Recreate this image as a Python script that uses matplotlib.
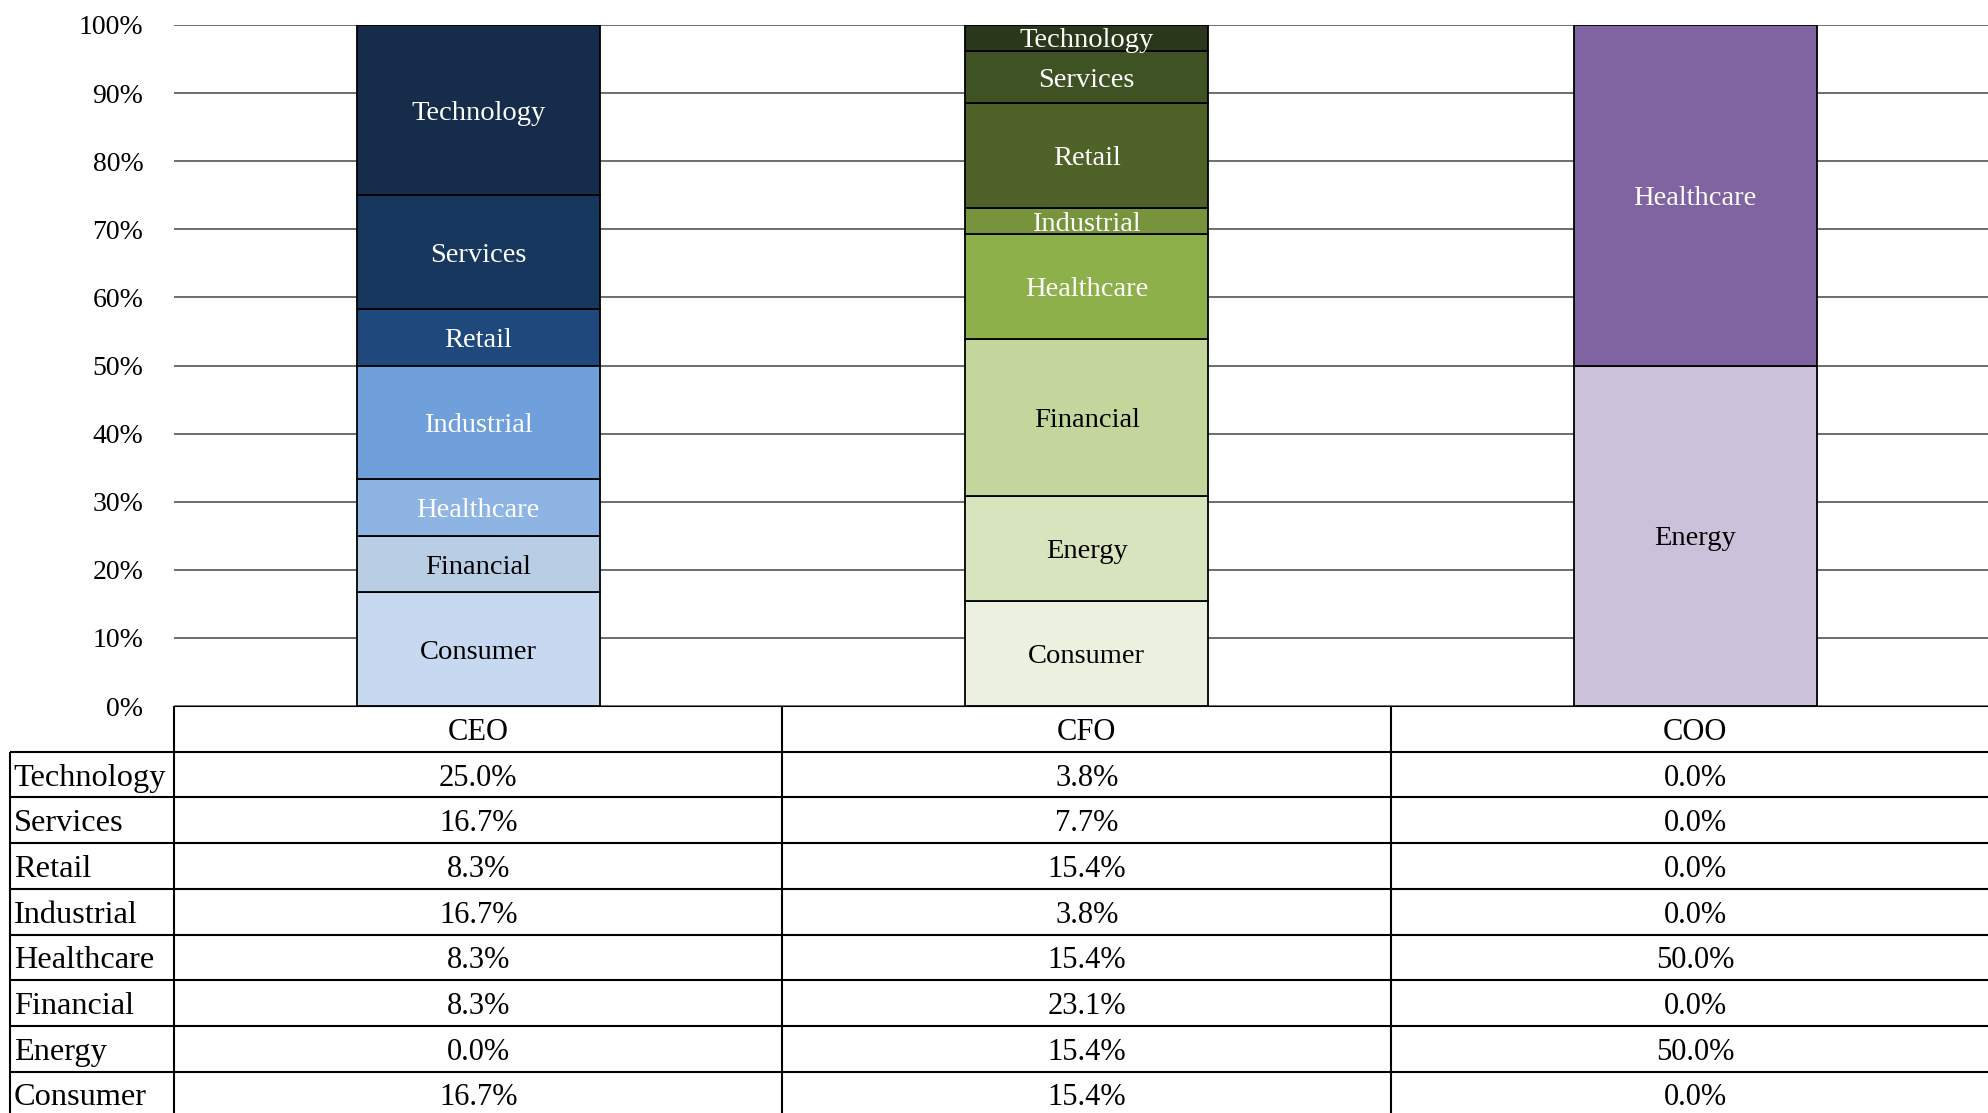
import numpy as np
import matplotlib.pyplot as plt
from matplotlib.ticker import PercentFormatter

plt.rcParams['font.family'] = ['Liberation Serif', 'DejaVu Serif']

# data (percent)
roles = ['CEO', 'CFO', 'COO']
sectors = ['Consumer', 'Energy', 'Financial', 'Healthcare',
           'Industrial', 'Retail', 'Services', 'Technology']   # bottom -> top
ceo = [16.7, 0.0, 8.3, 8.3, 16.7, 8.3, 16.7, 25.0]
cfo = [15.4, 15.4, 23.1, 15.4, 3.8, 15.4, 7.7, 3.8]
coo = [0.0, 50.0, 0.0, 50.0, 0.0, 0.0, 0.0, 0.0]

ceo_colors = ['#C6D9F1', '#C6D9F1', '#B9CDE5', '#8EB4E3',
              '#6FA0DC', '#1F497D', '#17375E', '#162C4B']
cfo_colors = ['#EBF1DE', '#D7E4BD', '#C3D69B', '#8DB04A',
              '#77933C', '#4F6228', '#3F5224', '#2B371A']
coo_colors = ['#E5E0EC', '#CCC1DA', '#B3A2C7', '#8064A2',
              '#604A7B', '#403152', '#403152', '#403152']
ceo_text = ['black', 'black', 'black', 'white', 'white', 'white', 'white', 'white']
cfo_text = ['black', 'black', 'black', 'white', 'white', 'white', 'white', 'white']
coo_text = ['black', 'black', 'black', 'white', 'white', 'white', 'white', 'white']

series = [ceo, cfo, coo]
colors = [ceo_colors, cfo_colors, coo_colors]
tcolors = [ceo_text, cfo_text, coo_text]

W, H = 1988, 1113
ax_l, ax_w = 174, 1825.5      # px
ax_t, ax_b = 25, 706
fig = plt.figure(figsize=(W / 100, H / 100), dpi=100)
ax = fig.add_axes([ax_l / W, 1 - ax_b / H, ax_w / W, (ax_b - ax_t) / H])

x = np.arange(len(roles))
for i, vals in enumerate(series):
    bottom = 0.0
    for j, v in enumerate(vals):
        if v > 0:
            ax.bar(x[i], v / 100, width=0.4, bottom=bottom, color=colors[i][j],
                   edgecolor='black', linewidth=1.3, zorder=3)
            ax.text(x[i], bottom + v / 200, sectors[j], ha='center',
                    va='center_baseline', fontsize=20.5, color=tcolors[i][j], zorder=4)
        bottom += v / 100

ax.set_xlim(-0.5, 2.5)
ax.set_ylim(0, 1)
ax.set_yticks(np.arange(0, 1.01, 0.1))
ax.yaxis.set_major_formatter(PercentFormatter(1.0, decimals=0))
ax.tick_params(axis='y', length=0, pad=22, labelsize=20)
ax.set_xticks([])
ax.grid(axis='y', color='#555555', linewidth=1.2, zorder=0)
for s in ax.spines.values():
    s.set_visible(False)

# data table under the chart, in its own axes (x in category units, y in rows)
row_px = 45.7
unit_px = ax_w / 3
tax = fig.add_axes([0, 0, 1, 1 - ax_b / H])
tax.set_xlim(-0.5 - ax_l / unit_px, -0.5 + (W - ax_l) / unit_px)
tax.set_ylim((H - ax_b) / row_px, 0)
tax.axis('off')

lab_x = -0.5 - 164 / unit_px
nrows = len(sectors) + 1
lw = 1.5
tax.hlines(0, -0.5, 2.5, color='black', lw=lw)
tax.hlines(np.arange(1, nrows + 1), lab_x, 2.5, color='black', lw=lw)
tax.vlines(lab_x, 1, nrows, color='black', lw=lw)
tax.vlines(np.arange(-0.5, 2.6, 1.0), 0, nrows, color='black', lw=lw)

for c, r in enumerate(roles):
    tax.text(x[c], 0.5, r, ha='center', va='center_baseline', fontsize=22)
for k, name in enumerate(sectors[::-1]):
    j = sectors.index(name)
    tax.text(lab_x + 0.006, k + 1.5, name, ha='left', va='center_baseline', fontsize=23.3)
    for c, vals in enumerate(series):
        tax.text(x[c], k + 1.5, f'{vals[j]:.1f}%', ha='center',
                 va='center_baseline', fontsize=22)

fig.savefig('out.png', dpi=100)
